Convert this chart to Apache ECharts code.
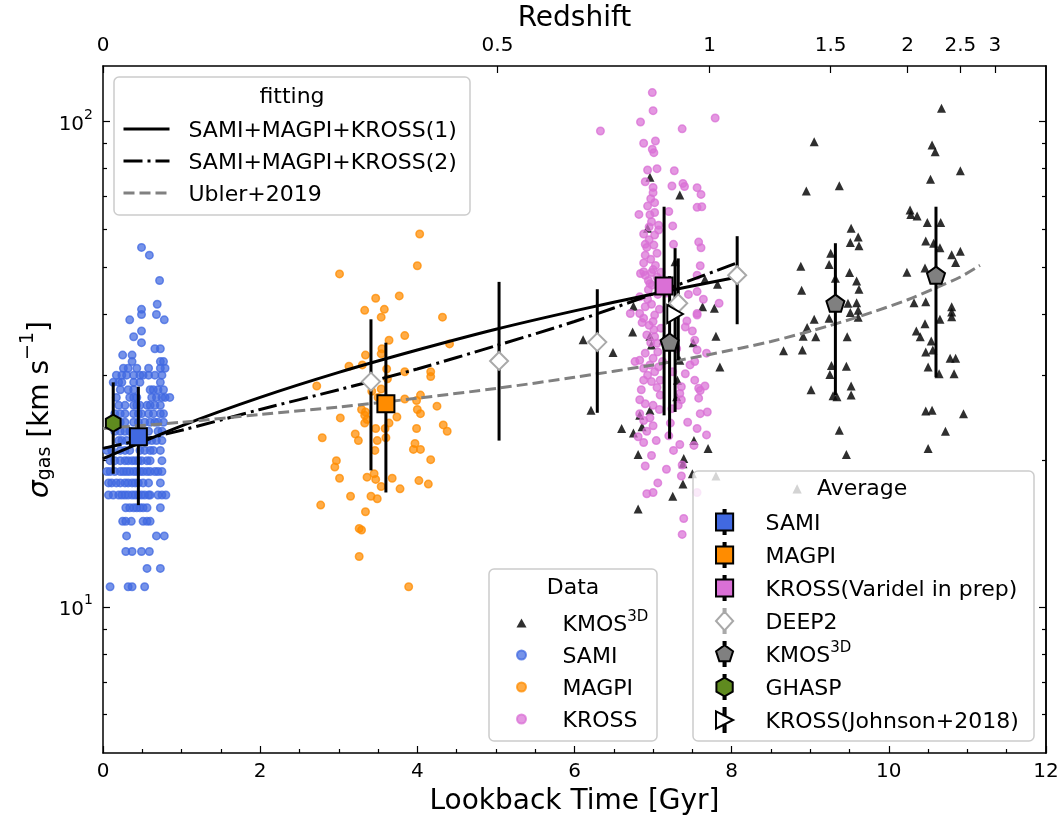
<!DOCTYPE html>
<html>
<head>
<meta charset="utf-8">
<title>Gas velocity dispersion vs lookback time</title>
<script src="https://cdn.jsdelivr.net/npm/echarts@6.0.0/dist/echarts.min.js"></script>
<style>
  html, body { margin: 0; padding: 0; background: #fff; }
  #chart { width: 1062px; height: 820px; }
</style>
</head>
<body>
<div id="chart"></div>
<script>
// ---------- values (x: lookback time [Gyr], y: sigma_gas [km/s]) ----------

// SAMI values sit on integer km/s rows: [sigma, [lookback times]]
const samiRows = [
  [11, [0.09, 0.32, 0.37, 0.53]],
  [12, [0.56, 0.73]],
  [13, [0.29, 0.37, 0.49, 0.59]],
  [14, [0.30, 0.68, 0.78]],
  [15, [0.25, 0.29, 0.36, 0.51, 0.56, 0.60]],
  [16, [0.29, 0.34, 0.39, 0.43, 0.47, 0.51, 0.56, 0.73]],
  [17, [0.07, 0.13, 0.20, 0.24, 0.28, 0.32, 0.37, 0.41, 0.45, 0.49, 0.53, 0.58, 0.60, 0.70, 0.75, 0.80]],
  [18, [0.07, 0.11, 0.17, 0.22, 0.28, 0.32, 0.37, 0.41, 0.45, 0.51, 0.58, 0.73]],
  [19, [0.05, 0.09, 0.15, 0.22, 0.26, 0.30, 0.34, 0.39, 0.43, 0.47, 0.51, 0.56, 0.60, 0.66, 0.70, 0.75]],
  [20, [0.09, 0.15, 0.22, 0.28, 0.32, 0.37, 0.41, 0.45, 0.49, 0.56, 0.60, 0.75]],
  [21, [0.05, 0.11, 0.22, 0.28, 0.34, 0.47, 0.53, 0.60, 0.64, 0.73]],
  [22, [0.20, 0.24, 0.30, 0.56, 0.62, 0.68, 0.75]],
  [23, [0.15, 0.22, 0.28, 0.34, 0.58, 0.70, 0.75]],
  [24, [0.15, 0.22, 0.28, 0.39, 0.45, 0.53, 0.60, 0.66, 0.70, 0.77]],
  [25, [0.15, 0.22, 0.28, 0.39, 0.45, 0.49, 0.58, 0.64, 0.73, 0.77]],
  [26, [0.20, 0.28, 0.39, 0.43, 0.47, 0.56, 0.60, 0.66, 0.73]],
  [27, [0.17, 0.34, 0.39, 0.43, 0.62, 0.68, 0.75, 0.79, 0.85]],
  [28, [0.22, 0.32, 0.39, 0.60, 0.64, 0.70, 0.77]],
  [29, [0.13, 0.20, 0.24, 0.39, 0.47, 0.73]],
  [30, [0.17, 0.24, 0.30, 0.39, 0.47, 0.51, 0.58, 0.66, 0.75]],
  [31, [0.26, 0.32, 0.43, 0.58, 0.73, 0.79]],
  [32, [0.37, 0.73, 0.77]],
  [33, [0.25, 0.37]],
  [34, [0.66, 0.73]],
  [35, [0.49]],
  [36, [0.39]],
  [37, [0.49]],
  [39, [0.34, 0.78]],
  [40, [0.49, 0.68]],
  [41, [0.49]],
  [42, [0.69]],
  [47, [0.72]],
  [53, [0.59]],
  [55, [0.49]]
];
const samiPts = samiRows.flatMap(([s, ts]) => ts.map(t => [t, s]));

const magpiPts = [
  [4.03, 58.6], [4.00, 50.4], [3.01, 48.5], [3.47, 43.2], [3.77, 43.7], [3.33, 40.8], [3.58, 41.0],
  [3.54, 39.5], [4.32, 39.5], [3.84, 36.2], [3.64, 35.4], [4.41, 34.8], [3.34, 33.0], [3.54, 33.2],
  [3.13, 31.3], [3.61, 30.9], [3.84, 30.5], [4.17, 30.5], [4.17, 29.8], [2.72, 28.5], [3.54, 28.1],
  [4.04, 27.3], [3.99, 26.6], [4.25, 25.9], [3.29, 25.5], [3.33, 24.8], [3.02, 24.5], [4.04, 25.0],
  [4.00, 25.5], [3.74, 24.6], [3.33, 23.9], [3.64, 23.9], [3.47, 23.3], [3.59, 23.3], [3.99, 23.3],
  [4.33, 23.7], [4.38, 23.0], [2.79, 22.3], [3.21, 22.7], [3.25, 22.0], [3.49, 22.0], [3.60, 22.3],
  [3.97, 21.7], [3.95, 21.1], [4.04, 21.1], [3.46, 21.0], [4.17, 20.1], [2.97, 20.0], [2.95, 19.4],
  [3.01, 18.4], [3.36, 18.5], [3.45, 18.8], [3.47, 18.3], [3.68, 18.4], [3.54, 17.7], [3.78, 17.5],
  [4.02, 18.2], [4.14, 17.9], [3.15, 16.9], [3.41, 16.9], [3.49, 16.7], [2.77, 16.2], [3.34, 15.7],
  [3.26, 14.5], [3.29, 14.4], [3.26, 12.7], [3.89, 11.0], [3.34, 25.2], [3.36, 24.3], [3.50, 27.0],
  [3.62, 29.5], [3.55, 34.0], [3.30, 31.5], [3.84, 26.8], [3.42, 27.8]
];

const krossPts = [
  [6.99, 114.6], [7.00, 105.2], [6.84, 99.7], [6.33, 95.5], [7.37, 96.5], [7.79, 101.6], [6.88, 90.1],
  [7.03, 91.1], [6.99, 87.6], [7.01, 86.2], [6.93, 79.4], [7.05, 79.9], [7.27, 79.1], [6.90, 75.1],
  [7.00, 73.1], [7.00, 71.3], [7.24, 73.6], [7.38, 74.5], [7.40, 73.4], [7.56, 73.0], [7.61, 70.7],
  [6.97, 69.3], [7.02, 68.0], [6.93, 66.9], [7.56, 66.5], [7.62, 66.7], [6.82, 64.3], [6.96, 64.2],
  [7.02, 64.9], [7.20, 65.2], [6.98, 62.1], [7.07, 59.7], [7.25, 60.9], [6.88, 58.6], [7.02, 58.3],
  [6.90, 55.8], [7.01, 55.6], [7.58, 56.4], [7.61, 54.9], [7.26, 55.8], [6.90, 53.0], [7.05, 53.5],
  [6.88, 51.1], [7.60, 50.4], [7.00, 49.5], [6.84, 48.6], [6.90, 48.2], [6.98, 48.8], [7.56, 48.2],
  [7.56, 44.6], [7.64, 43.0], [7.84, 42.2], [6.83, 43.5], [6.90, 41.5], [6.83, 40.2], [6.71, 40.2],
  [7.02, 39.9], [7.56, 40.2], [6.94, 45.0], [7.05, 47.8], [7.10, 48.9], [6.96, 46.3], [6.88, 49.0],
  [7.17, 44.3], [7.07, 61.1], [6.95, 60.6], [6.88, 39.3], [7.00, 38.7], [7.01, 37.2], [7.02, 36.0],
  [6.92, 36.3], [7.05, 34.9], [6.90, 33.3], [7.00, 32.5], [6.96, 31.5], [6.77, 32.0], [6.83, 32.2],
  [7.07, 31.2], [7.02, 30.5], [7.09, 29.3], [6.88, 29.3], [6.98, 29.1], [7.05, 28.3], [7.09, 27.3],
  [6.83, 26.7], [6.90, 26.2], [6.83, 25.0], [6.88, 24.2], [7.00, 23.6], [6.81, 22.4], [6.88, 21.8],
  [7.22, 23.9], [7.26, 21.0], [7.34, 21.6], [7.17, 19.2], [7.36, 18.6], [7.00, 17.2], [6.92, 17.1],
  [7.39, 15.2], [7.56, 39.9], [7.43, 38.8], [7.41, 37.7], [7.53, 35.4], [7.56, 33.8], [7.68, 33.3],
  [7.53, 32.0], [7.41, 30.2], [7.53, 29.3], [7.58, 28.2], [7.66, 28.5], [7.60, 27.9], [7.36, 28.4],
  [7.34, 27.5], [7.36, 26.7], [7.58, 26.9], [7.60, 25.0], [7.69, 25.2], [7.56, 23.3], [7.68, 22.6],
  [7.56, 17.2], [7.37, 19.6], [7.24, 25.6], [7.37, 14.1],
  [6.95, 57.0], [6.92, 55.0], [6.97, 52.0], [7.03, 50.5], [6.94, 47.0], [6.99, 46.0], [7.06, 44.0],
  [6.93, 43.0], [6.98, 42.0], [7.08, 41.0], [6.86, 38.5], [6.95, 38.0], [7.10, 37.5], [6.97, 35.0],
  [7.06, 33.5], [6.88, 31.0], [6.93, 30.0], [7.12, 32.0], [6.85, 28.0], [7.00, 26.0], [6.96, 24.5],
  [7.08, 25.5], [6.92, 23.0], [7.04, 22.0], [6.98, 20.5], [6.90, 19.5], [7.06, 18.0], [7.45, 44.0],
  [7.50, 37.0], [7.47, 31.5], [7.44, 24.0], [7.52, 21.5], [7.30, 34.0], [7.25, 30.5], [7.32, 26.0],
  [7.20, 22.5]
];

const kmosPts = [
  [6.96, 76.7], [7.34, 70.5], [6.93, 60.2], [7.28, 51.4], [6.75, 41.6], [7.66, 47.3], [7.82, 46.2],
  [7.63, 41.5], [7.78, 41.2], [6.74, 36.8], [6.49, 33.4], [6.11, 35.5], [6.96, 36.1], [6.98, 34.6],
  [7.51, 35.0], [7.80, 36.1], [7.85, 31.2], [6.21, 25.4], [6.60, 23.3], [6.75, 22.8], [6.86, 23.5],
  [6.83, 24.8], [6.96, 25.4], [7.52, 22.0], [7.70, 21.2], [6.81, 20.6], [7.39, 20.2], [7.38, 19.7],
  [7.50, 18.8], [7.38, 17.9], [7.25, 16.9], [6.81, 15.9], [7.34, 32.2], [7.31, 29.3], [7.30, 27.1],
  [7.13, 35.4], [7.80, 18.6],
  [10.67, 106.4], [9.05, 90.8], [10.55, 89.4], [10.59, 86.6], [10.91, 79.1], [10.53, 76.0], [8.95, 71.9],
  [9.37, 73.7], [10.27, 65.7], [10.36, 63.8], [10.28, 64.3], [10.49, 61.9], [10.66, 61.9], [9.52, 60.2],
  [9.61, 57.8], [9.51, 56.3], [9.62, 55.4], [10.47, 56.7], [10.57, 56.1], [10.65, 54.9], [9.26, 53.5],
  [9.24, 50.7], [8.88, 50.3], [10.80, 53.1], [10.91, 54.0], [10.85, 51.2], [9.50, 48.8], [10.23, 48.9],
  [10.46, 49.9], [9.59, 46.9], [9.32, 47.5], [9.62, 45.1], [8.89, 44.9], [9.59, 42.3], [9.48, 42.2],
  [9.61, 40.8], [9.51, 40.4], [9.61, 39.5], [10.32, 42.3], [10.47, 42.5], [10.80, 41.5], [10.80, 40.5],
  [10.80, 39.6], [9.24, 39.3], [9.05, 39.1], [10.65, 39.1], [8.96, 37.6], [8.91, 36.1], [9.07, 36.0],
  [10.46, 38.3], [10.35, 37.0], [10.40, 36.0], [9.47, 36.0], [8.66, 33.7], [8.90, 33.8], [10.54, 35.3],
  [10.47, 33.5], [10.56, 33.8], [10.78, 32.5], [10.85, 32.5], [9.27, 31.4], [9.46, 31.3], [9.25, 30.1],
  [10.50, 31.2], [10.64, 30.2], [10.83, 30.2], [9.01, 28.0], [9.52, 28.5], [9.52, 27.3], [9.29, 27.2],
  [9.34, 27.1], [10.47, 25.3], [10.55, 25.4], [10.95, 25.0], [9.37, 23.1], [10.72, 23.0], [10.50, 21.2],
  [9.46, 20.6]
];

// averages: [lookback time, sigma, lower end of error bar, upper end of error bar]
const samiAvg = [[0.45, 22.4, 16.2, 28.4]];
const magpiAvg = [[3.60, 26.2, 17.2, 35.0]];
const krossAvg = [[7.14, 45.8, 24.8, 66.7]];
const deep2Avg = [[3.41, 29.1, 19.1, 39.1], [5.04, 32.1, 22.0, 46.7], [6.29, 35.1, 25.1, 45.1],
                  [7.32, 42.2, 32.2, 52.2], [8.07, 48.2, 38.2, 58.0]];
const kmosAvg = [[7.21, 35.1, 22.2, 48.0], [9.32, 42.2, 27.3, 56.1], [10.60, 48.2, 29.7, 66.7]];
const ghaspAvg = [[0.13, 23.9, 18.8, 29.0]];
const johnsonAvg = [[7.28, 40.1, 25.2, 54.8]];

// fitted relations
const fit1T = [0, 1, 2, 3, 4, 5, 6, 7, 8.0];
const fit1S = [20.2, 23.6, 27.0, 30.4, 33.8, 37.3, 40.7, 44.1, 47.5];
const fit2T = [0, 1, 2, 3, 4, 5, 6, 7, 8.07];
const fit2S = [21.2, 23.1, 25.5, 28.0, 30.9, 34.5, 38.7, 44.1, 51.1];
const ublerT = [0, 1, 2, 3, 4, 5.02, 6, 7, 7.72, 8.5, 9.26, 9.8, 10.24, 10.6, 10.91, 11.16];
const ublerS = [23.3, 24.0, 24.9, 25.8, 26.9, 28.2, 29.7, 31.5, 33.1, 35.2, 38.0, 40.5, 42.9, 45.4, 47.8, 50.5];

// top axis: redshift labels and their lookback times
const zLabels = ['0', '0.5', '1', '1.5', '2', '2.5', '3'];
const zTickTime = [0, 5.02, 7.72, 9.26, 10.24, 10.91, 11.35];

// y ticks (km/s)
const yMajor = [10, 100];
const yMinor = [6, 7, 8, 9, 20, 30, 40, 50, 60, 70, 80, 90];

// ---------- chart ----------
const FONT = 'DejaVu Sans';
const zip = (a, b) => a.map((v, i) => [v, b[i]]);
const pair = rows => rows.map(r => [r[0], r[1]]);

const chart = echarts.init(document.getElementById('chart'), null, { renderer: 'canvas' });

// legend icons: marker with the little error-bar stubs above and below
const sqIcon = 'path://M0,2H10V12H0Z M4.4,0H5.6V2H4.4Z M4.4,12H5.6V14H4.4Z';
const diaIcon = 'path://M5,1.5L10,7L5,12.5L0,7Z M4.4,0H5.6V1.5H4.4Z M4.4,12.5H5.6V14H4.4Z';
const pentIcon = 'path://M5,1.8L9.95,5.4L8.06,11.2L1.94,11.2L0.05,5.4Z M4.4,0H5.6V1.8H4.4Z M4.4,11.2H5.6V14H4.4Z';
const hexIcon = 'path://M5,1.5L9.76,4.25L9.76,9.75L5,12.5L0.24,9.75L0.24,4.25Z M4.4,0H5.6V1.5H4.4Z M4.4,12.5H5.6V14H4.4Z';
const triRIcon = 'path://M0,2L10,7L0,12Z M4.4,0H5.6V4.2H4.4Z M4.4,9.8H5.6V14H4.4Z';

const pentagon = 'path://M5,0L9.755,3.455L7.939,9.045L2.061,9.045L0.245,3.455Z';
const hexagon = 'path://M5,0L9.33,2.5L9.33,7.5L5,10L0.67,7.5L0.67,2.5Z';
const triRight = 'path://M0,0L8.66,5L0,10Z';

const legendLabel = {
  'KMOS3D data': '{t|KMOS}{sup|3D}',
  'SAMI data': '{t|SAMI}',
  'MAGPI data': '{t|MAGPI}',
  'KROSS data': '{t|KROSS}',
  'SAMI avg': '{t|SAMI}',
  'MAGPI avg': '{t|MAGPI}',
  'KROSS avg': '{t|KROSS(Varidel in prep)}',
  'DEEP2': '{t|DEEP2}',
  'KMOS3D avg': '{t|KMOS}{sup|3D}',
  'GHASP': '{t|GHASP}',
  'KROSS Johnson': '{t|KROSS(Johnson+2018)}',
  'fit1': '{t|SAMI+MAGPI+KROSS(1)}',
  'fit2': '{t|SAMI+MAGPI+KROSS(2)}',
  'ubler': '{t|Ubler+2019}'
};
const legendText = {
  color: '#000',
  fontFamily: FONT,
  fontSize: 22,
  padding: [0, 0, 0, 26],
  rich: {
    t: { fontFamily: FONT, fontSize: 22, lineHeight: 26, verticalAlign: 'bottom', color: '#000' },
    sup: { fontFamily: FONT, fontSize: 15, lineHeight: 15, verticalAlign: 'top', color: '#000' }
  }
};

const axisBlack = { color: '#000', width: 1.5 };
const tickStyle = { color: '#000', width: 1.2 };

const dotSeries = (name, data, rgb) => ({
  name, type: 'scatter', data, z: 2,
  symbol: 'circle', symbolSize: 7.5,
  itemStyle: { color: `rgba(${rgb},0.72)`, borderColor: `rgba(${rgb},0.75)`, borderWidth: 1.5, opacity: 1 }
});

const avgSeries = (name, data, symbol, size, fill, edge) => ({
  name, type: 'scatter', data: pair(data), z: 6,
  symbol, symbolSize: size, symbolKeepAspect: true,
  itemStyle: { color: fill, borderColor: edge, borderWidth: 2, opacity: 1 }
});

const errRows = [...samiAvg, ...magpiAvg, ...krossAvg, ...deep2Avg, ...kmosAvg, ...ghaspAvg, ...johnsonAvg]
  .map(r => [r[0], r[2], r[3]]);

const yTickAxis = (position, ticks, len, withLabels) => ({
  type: 'value', position,
  min: Math.log10(5), max: Math.log10(130),
  axisLine: { show: position === 'right', lineStyle: axisBlack },
  axisTick: { show: true, inside: true, length: len, customValues: ticks.map(Math.log10), lineStyle: tickStyle },
  axisLabel: withLabels ? {
    show: true, customValues: ticks.map(Math.log10), margin: 10,
    formatter: v => '{b|10}{s|' + Math.round(v) + '}',
    rich: {
      b: { fontFamily: FONT, fontSize: 20, lineHeight: 26, verticalAlign: 'bottom', color: '#000' },
      s: { fontFamily: FONT, fontSize: 14, lineHeight: 14, verticalAlign: 'top', color: '#000' }
    }
  } : { show: false },
  splitLine: { show: false }
});

const option = {
  animation: false,
  backgroundColor: '#fff',
  textStyle: { fontFamily: FONT },
  grid: { left: 103, right: 16, top: 66, bottom: 67, outerBoundsMode: 'none', containLabel: false },
  xAxis: [
    {
      type: 'value', position: 'bottom', min: 0, max: 12, interval: 2,
      axisLine: { onZero: false, lineStyle: axisBlack },
      axisTick: { inside: true, length: 7, lineStyle: tickStyle },
      minorTick: { show: true, splitNumber: 4, length: 4, lineStyle: tickStyle },
      axisLabel: { fontFamily: FONT, fontSize: 20, color: '#000', margin: 9 },
      splitLine: { show: false },
      name: 'Lookback Time [Gyr]', nameLocation: 'middle', nameGap: 35,
      nameMoveOverlap: false,
      nameTextStyle: { fontFamily: FONT, fontSize: 28, color: '#000' }
    },
    {
      type: 'value', position: 'top', min: 0, max: 12,
      axisLine: { onZero: false, lineStyle: axisBlack },
      axisTick: { inside: true, length: 7, customValues: zTickTime, lineStyle: tickStyle },
      axisLabel: {
        customValues: zTickTime, fontFamily: FONT, fontSize: 20, color: '#000', margin: 10,
        formatter: v => {
          let best = 0;
          zTickTime.forEach((t, i) => { if (Math.abs(t - v) < Math.abs(zTickTime[best] - v)) best = i; });
          return zLabels[best];
        }
      },
      splitLine: { show: false },
      name: 'Redshift', nameLocation: 'middle', nameGap: 33,
      nameMoveOverlap: false,
      nameTextStyle: { fontFamily: FONT, fontSize: 28, color: '#000' }
    }
  ],
  yAxis: [
    {
      type: 'log', logBase: 10, min: 5, max: 130, position: 'left',
      axisLine: { show: true, onZero: false, lineStyle: axisBlack },
      axisTick: { show: false }, minorTick: { show: false },
      axisLabel: { show: false }, splitLine: { show: false },
      name: '{i|σ}{sub|gas}{n| [km s}{sup|−1}{n|]}',
      nameLocation: 'middle', nameGap: 48, nameMoveOverlap: false,
      nameTextStyle: {
        fontFamily: FONT, fontSize: 28, color: '#000',
        rich: {
          i: { fontFamily: FONT, fontSize: 28, fontStyle: 'italic', lineHeight: 36, verticalAlign: 'bottom', color: '#000' },
          n: { fontFamily: FONT, fontSize: 28, lineHeight: 36, verticalAlign: 'bottom', color: '#000' },
          sub: { fontFamily: FONT, fontSize: 19, lineHeight: 16, verticalAlign: 'bottom', color: '#000' },
          sup: { fontFamily: FONT, fontSize: 19, lineHeight: 16, verticalAlign: 'top', color: '#000' }
        }
      }
    },
    yTickAxis('left', yMajor, 7, true),
    yTickAxis('left', yMinor, 4, false),
    yTickAxis('right', yMajor, 7, false),
    yTickAxis('right', yMinor, 4, false)
  ],
  legend: [
    {
      z: 10, orient: 'vertical', left: 122, top: 120, padding: 0,
      itemWidth: 46, itemHeight: 14, itemGap: 10, selectedMode: false,
      // hide the marker the line legend icon carries; the line itself keeps the series dash
      itemStyle: { opacity: 0 },
      lineStyle: { width: 3 },
      data: ['fit1', 'fit2', 'ubler'],
      formatter: n => legendLabel[n],
      textStyle: Object.assign({}, legendText, { padding: [0, 0, 0, 14] })
    },
    {
      z: 10, orient: 'vertical', left: 516, top: 610, padding: 0,
      itemWidth: 10, itemHeight: 9, itemGap: 10, selectedMode: false,
      data: [
        { name: 'KMOS3D data', icon: 'triangle' },
        { name: 'SAMI data', icon: 'circle' },
        { name: 'MAGPI data', icon: 'circle' },
        { name: 'KROSS data', icon: 'circle' }
      ],
      formatter: n => legendLabel[n],
      textStyle: Object.assign({}, legendText, { padding: [0, 0, 0, 31] })
    },
    {
      z: 10, orient: 'vertical', left: 715, top: 509, padding: 0,
      itemWidth: 20, itemHeight: 24, itemGap: 7, selectedMode: false,
      data: [
        { name: 'SAMI avg', icon: sqIcon },
        { name: 'MAGPI avg', icon: sqIcon },
        { name: 'KROSS avg', icon: sqIcon },
        { name: 'DEEP2', icon: diaIcon },
        { name: 'KMOS3D avg', icon: pentIcon },
        { name: 'GHASP', icon: hexIcon },
        { name: 'KROSS Johnson', icon: triRIcon }
      ],
      formatter: n => legendLabel[n],
      textStyle: legendText
    }
  ],
  graphic: [
    { type: 'rect', z: 9, silent: true, shape: { x: 114, y: 77, width: 356, height: 138, r: 5 },
      style: { fill: 'rgba(255,255,255,0.8)', stroke: '#cccccc', lineWidth: 1.5 } },
    { type: 'rect', z: 9, silent: true, shape: { x: 489, y: 569, width: 168, height: 172, r: 5 },
      style: { fill: 'rgba(255,255,255,0.8)', stroke: '#cccccc', lineWidth: 1.5 } },
    { type: 'rect', z: 9, silent: true, shape: { x: 693, y: 471, width: 341, height: 270, r: 5 },
      style: { fill: 'rgba(255,255,255,0.8)', stroke: '#cccccc', lineWidth: 1.5 } },
    { type: 'text', z: 11, x: 292, y: 97, silent: true,
      style: { text: 'fitting', fontFamily: FONT, fontSize: 22, fill: '#000', align: 'center', verticalAlign: 'middle' } },
    { type: 'text', z: 11, x: 573, y: 588, silent: true,
      style: { text: 'Data', fontFamily: FONT, fontSize: 22, fill: '#000', align: 'center', verticalAlign: 'middle' } },
    { type: 'text', z: 11, x: 797, y: 489, silent: true,
      style: { text: '▲', fontFamily: FONT, fontSize: 12, fill: '#d3d3d3', align: 'center', verticalAlign: 'middle' } },
    { type: 'text', z: 11, x: 817, y: 489, silent: true,
      style: { text: 'Average', fontFamily: FONT, fontSize: 22, fill: '#000', align: 'left', verticalAlign: 'middle' } }
  ],
  series: [
    {
      name: 'KMOS3D data', type: 'scatter', data: kmosPts, z: 2,
      symbol: 'triangle', symbolSize: 9,
      itemStyle: { color: 'rgba(10,10,10,0.85)', opacity: 1 }
    },
    dotSeries('SAMI data', samiPts, '65,105,225'),
    dotSeries('MAGPI data', magpiPts, '255,140,0'),
    dotSeries('KROSS data', krossPts, '218,112,214'),
    {
      name: 'fit1', type: 'line', data: zip(fit1T, fit1S), z: 3, symbol: 'none', smooth: 0.3,
      lineStyle: { color: '#000', width: 3, type: 'solid' }, itemStyle: { color: '#000' }
    },
    {
      name: 'fit2', type: 'line', data: zip(fit2T, fit2S), z: 3, symbol: 'none', smooth: 0.3,
      lineStyle: { color: '#000', width: 3, type: [19, 5, 3, 5] }, itemStyle: { color: '#000' }
    },
    {
      name: 'ubler', type: 'line', data: zip(ublerT, ublerS), z: 3, symbol: 'none', smooth: 0.3,
      lineStyle: { color: '#808080', width: 3, type: [11, 5] }, itemStyle: { color: '#808080' }
    },
    {
      name: 'errorbars', type: 'custom', z: 4, silent: true,
      data: errRows, encode: { x: 0, y: [1, 2] },
      renderItem: (params, api) => {
        const p1 = api.coord([api.value(0), api.value(1)]);
        const p2 = api.coord([api.value(0), api.value(2)]);
        return {
          type: 'line',
          shape: { x1: p1[0], y1: p1[1], x2: p2[0], y2: p2[1] },
          style: { stroke: '#000', lineWidth: 3 }
        };
      }
    },
    avgSeries('DEEP2', deep2Avg, 'diamond', 18, '#ffffff', '#a9a9a9'),
    avgSeries('KMOS3D avg', kmosAvg, pentagon, 18, '#808080', '#000'),
    avgSeries('GHASP', ghaspAvg, hexagon, 17, '#5f8a1f', '#000'),
    avgSeries('KROSS Johnson', johnsonAvg, triRight, 18, '#ffffff', '#000'),
    avgSeries('SAMI avg', samiAvg, 'rect', 17, '#4169e1', '#000'),
    avgSeries('MAGPI avg', magpiAvg, 'rect', 17, '#ff8c00', '#000'),
    avgSeries('KROSS avg', krossAvg, 'rect', 17, '#da70d6', '#000')
  ]
};

chart.setOption(option);
window.addEventListener('resize', () => chart.resize());
</script>
</body>
</html>
